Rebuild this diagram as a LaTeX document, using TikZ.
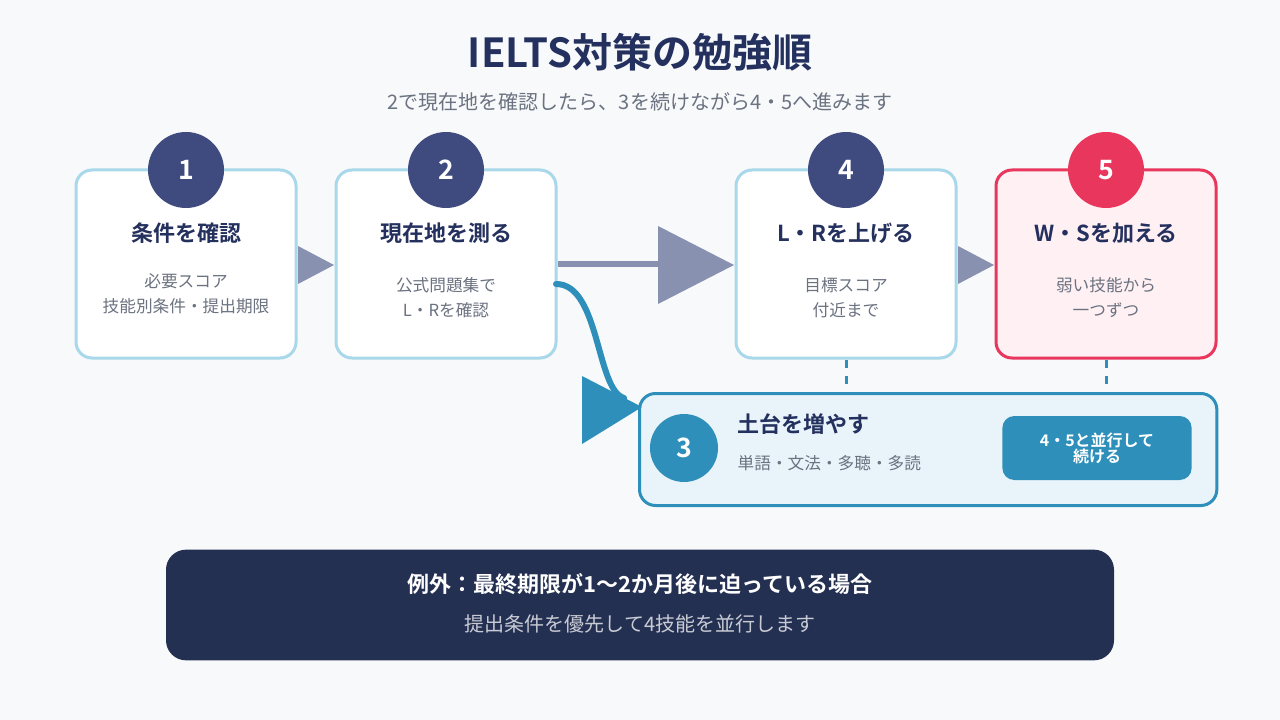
\documentclass[tikz,border=0pt]{standalone}
\usepackage{fontspec}
\setmainfont{Noto Sans CJK JP}[BoldFont={Noto Sans CJK JP Bold}]
\usetikzlibrary{positioning}
\definecolor{navy}{HTML}{24305E}
\definecolor{circ}{HTML}{3F4A7E}
\definecolor{txtgray}{HTML}{6B7280}
\definecolor{edgeblue}{HTML}{A8D8EA}
\definecolor{accent}{HTML}{E8365D}
\definecolor{pinkbg}{HTML}{FFF0F3}
\definecolor{teal}{HTML}{2E8FBA}
\definecolor{tealbg}{HTML}{E8F4FA}
\definecolor{arrowgray}{HTML}{8891B0}
\definecolor{darkbox}{HTML}{243052}
\definecolor{bg}{HTML}{F7F9FB}
\newcommand{\fs}[1]{\fontsize{#1}{#1}\selectfont}

\begin{document}
\begin{tikzpicture}[x=0.75pt,y=-0.75pt,
    stepbox/.style={draw=edgeblue, line width=2.25pt, fill=white, rounded corners=12pt,
      minimum width=165pt, minimum height=141pt},
    num/.style={circle, fill=circ, minimum size=57pt, inner sep=0pt, text=white, font=\bfseries\fs{20pt}},
    head/.style={text=navy, font=\bfseries\fs{16.5pt}},
    body/.style={text=txtgray, font=\fs{12.5pt}, align=center, text depth=0pt},
    tri/.style={fill=arrowgray}]

    \fill[bg] (0,0) rectangle (1280,720);

    \node (title) [text=navy, font=\bfseries\fs{30pt}] at (640,52) {IELTS対策の勉強順};
    \node (sub) [text=txtgray, font=\fs{15pt}] at (640,102) {2で現在地を確認したら、3を続けながら4・5へ進みます};

    % steps
    \node (s1) [stepbox] at (186,264) {};
    \node (s2) [stepbox] at (446,264) {};
    \node (s4) [stepbox] at (846,264) {};
    \node (s5) [stepbox, draw=accent, fill=pinkbg] at (1106,264) {};

    \node (n1) [num] at (186,170) {1};
    \node (n2) [num] at (446,170) {2};
    \node (n4) [num] at (846,170) {4};
    \node (n5) [num, fill=accent] at (1106,170) {5};

    \node (h1) [head] at (186,233) {条件を確認};
    \node (h2) [head] at (446,233) {現在地を測る};
    \node (h4) [head] at (846,233) {L・Rを上げる};
    \node (h5) [head] at (1106,233) {W・Sを加える};

    \node (b1) [body] at (186,293) {必要スコア\\[6pt]技能別条件・提出期限};
    \node (b2) [body] at (446,297) {公式問題集で\\[6pt]L・Rを確認};
    \node (b4) [body] at (846,297) {目標スコア\\[6pt]付近まで};
    \node (b5) [body] at (1106,297) {弱い技能から\\[6pt]一つずつ};

    % arrows between steps
    \fill[tri] (298,246) -- (334,265) -- (298,284) -- cycle;
    \draw[arrowgray, line width=5pt] (s2.east) -- (660,264);
    \fill[tri] (658,226) -- (734,265) -- (658,304) -- cycle;
    \fill[tri] (958,246) -- (994,265) -- (958,284) -- cycle;

    % foundation
    \node (s3) [stepbox, draw=teal, fill=tealbg, minimum width=433pt, minimum height=84pt,
      anchor=north west] at (638,392) {};
    \draw[teal, line width=2.25pt, dash pattern=on 6pt off 6pt] (s4.south) -- (846,392);
    \draw[teal, line width=2.25pt, dash pattern=on 6pt off 6pt] (s5.south) -- (1106,392);
    \node (n3) [num, fill=teal, minimum size=51pt] at (684,448) {3};
    \node (h3) [head, anchor=west] at (733,424) {土台を増やす};
    \node (b3) [body, anchor=west] at (733,462) {単語・文法・多聴・多読};
    \node (badge) [fill=teal, rounded corners=9pt, minimum width=142pt, minimum height=48pt,
      text=white, font=\bfseries\fs{12pt}, align=center] at (1097,448) {4・5と並行して\\続ける};

    \coordinate (c3) at (624,398);
    \draw[teal, line width=4.5pt, line cap=round] (556,284) .. controls (600,284) and (596,390) .. (c3);
    \fill[teal] (582,376) -- (642,407) -- (582,444) -- cycle;

    % exception
    \node (ex) [fill=darkbox, rounded corners=15pt, minimum width=711pt, minimum height=83pt]
      at (640,605) {};
    \node (ext) [text=white, font=\bfseries\fs{16.5pt}] at (640,584) {例外：最終期限が1〜2か月後に迫っている場合};
    \node (exb) [text=white!75!darkbox, font=\fs{15pt}] at (640,624) {提出条件を優先して4技能を並行します};

\end{tikzpicture}
\end{document}
